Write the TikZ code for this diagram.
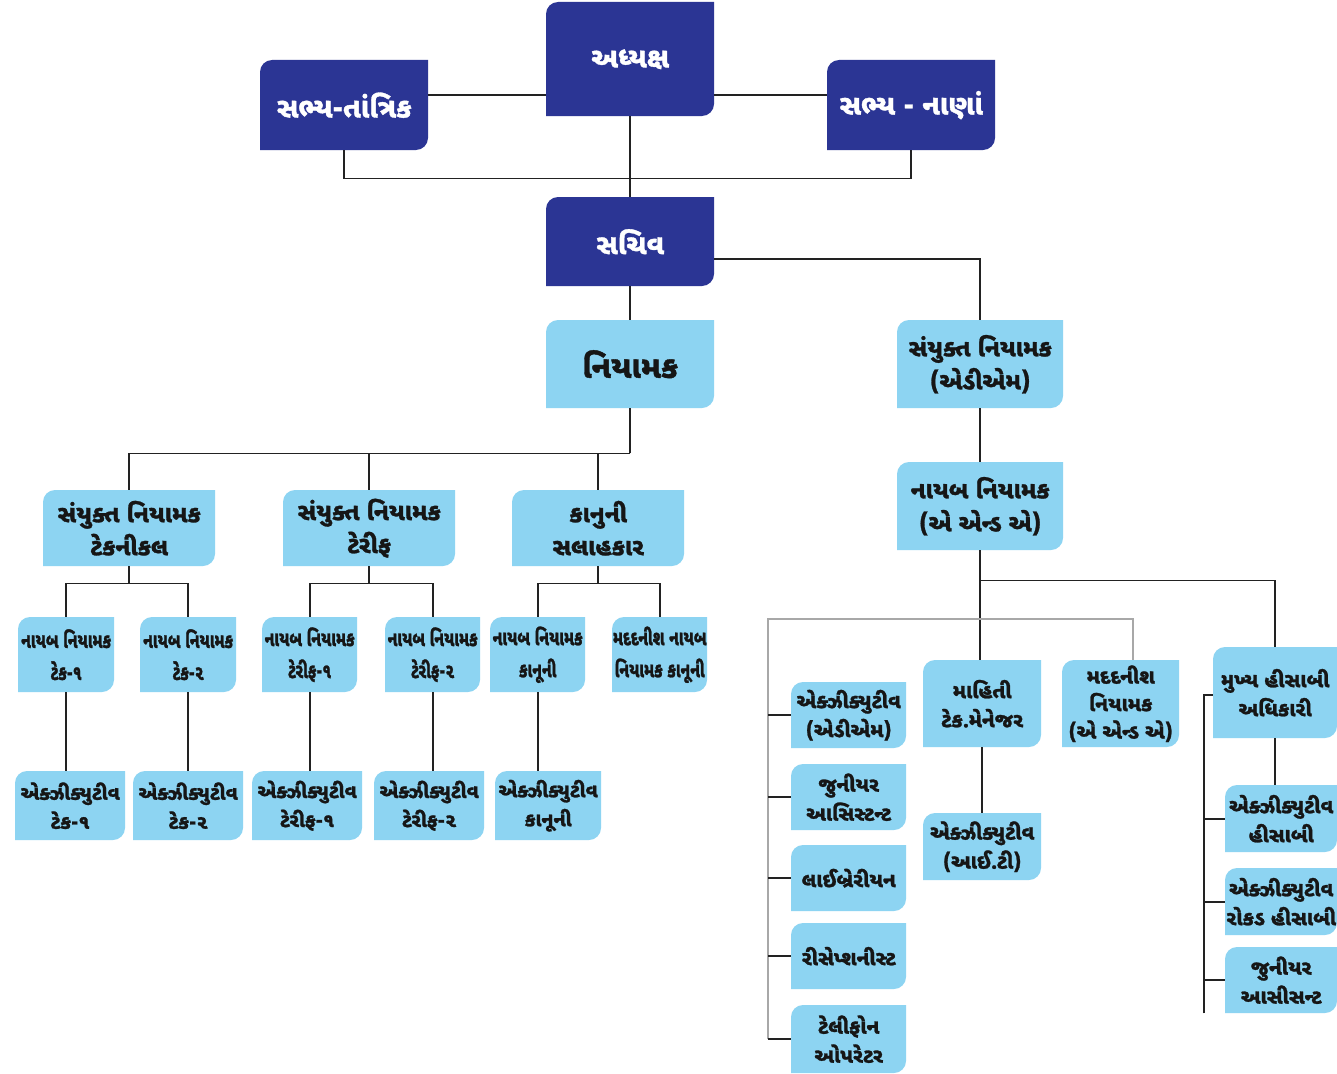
\documentclass[tikz,border=0pt]{standalone}
\usepackage{fontspec}
\newfontfamily\guj[Script=Gujarati, BoldFeatures={FakeBold=1.2}]{Noto Sans Gujarati UI}
\newfontfamily\gujc[Script=Gujarati, FakeStretch=0.74, BoldFeatures={FakeBold=1.2}]{Noto Sans Gujarati UI}
\definecolor{darkbox}{HTML}{2B3594}
\definecolor{lightbox}{HTML}{8DD4F2}
\definecolor{linec}{HTML}{222222}
\definecolor{grayl}{HTML}{A8A8A8}
\definecolor{txt}{HTML}{161616}
\newcommand\obox[8]{%
  \fill[#6] (#2,#3+12) .. controls (#2,#3+5.4) and (#2+5.4,#3) .. (#2+12,#3) -- (#4,#3) -- (#4,#5-12) .. controls (#4,#5-5.4) and (#4-5.4,#5) .. (#4-12,#5) -- (#2,#5) -- cycle;
  \node[#7, inner sep=0pt, minimum width=#4-#2, minimum height=#5-#3, anchor=north west, align=center] (#1) at (#2,#3) {#8};
}
\tikzset{
  dk/.style={text=white, font=\guj\bfseries\fontsize{28}{32}\selectfont},
  big/.style={text=txt, font=\guj\bfseries\fontsize{31}{34}\selectfont},
  lvtwo/.style={text=txt, font=\guj\bfseries\fontsize{24}{33}\selectfont},
  lvthree/.style={text=txt, font=\gujc\bfseries\fontsize{21}{32}\selectfont},
  lvfour/.style={text=txt, font=\guj\bfseries\fontsize{19.5}{29}\selectfont},
  sm/.style={text=txt, font=\guj\bfseries\fontsize{20.5}{29}\selectfont},
  smtight/.style={text=txt, font=\guj\bfseries\fontsize{20.5}{27.5}\selectfont},
  conn/.style={draw=linec, line width=1.6pt},
  gconn/.style={draw=grayl, line width=1.3pt}
}
\begin{document}
\begin{tikzpicture}[x=1pt, y=-1pt]
\useasboundingbox (0,0) rectangle (1337,1073);
\fill[white] (0,0) rectangle (1337,1073);
% dark boxes
\obox{adhy}{546}{2}{714}{116}{darkbox}{dk}{અધ્યક્ષ}
\obox{stech}{260}{60}{428}{150}{darkbox}{dk}{સભ્ય-તાંત્રિક}
\obox{sfin}{827}{60}{995}{150}{darkbox}{dk}{સભ્ય - નાણાં}
\obox{sachiv}{546}{197}{714}{286}{darkbox}{dk}{સચિવ}
% level 2
\obox{niyamak}{546}{320}{714}{408}{lightbox}{big}{નિયામક}
\obox{sadm}{897}{320}{1063}{408}{lightbox}{lvtwo}{સંયુક્ત નિયામક\\(એડીએમ)}
\obox{naa}{897}{462}{1063}{550}{lightbox}{lvtwo}{નાયબ નિયામક\\(એ એન્ડ એ)}
\obox{jtech}{43}{490}{215}{566}{lightbox}{lvtwo}{સંયુક્ત નિયામક\\ટેકનીકલ}
\obox{jtar}{283}{490}{455}{566}{lightbox}{lvtwo}{સંયુક્ત નિયામક\\ટેરીફ}
\obox{legal}{512}{490}{684}{566}{lightbox}{lvtwo}{કાનુની\\સલાહકાર}
% level 3
\obox{dtone}{18}{617}{114}{692}{lightbox}{lvthree}{નાયબ નિયામક\\ટેક-૧}
\obox{dttwo}{140}{617}{236}{692}{lightbox}{lvthree}{નાયબ નિયામક\\ટેક-૨}
\obox{drone}{262}{617}{357}{692}{lightbox}{lvthree}{નાયબ નિયામક\\ટેરીફ-૧}
\obox{drtwo}{385}{617}{480}{692}{lightbox}{lvthree}{નાયબ નિયામક\\ટેરીફ-૨}
\obox{dleg}{490}{617}{585}{692}{lightbox}{lvthree}{નાયબ નિયામક\\કાનૂની}
\obox{adleg}{612}{617}{707}{692}{lightbox}{lvthree}{મદદનીશ નાયબ\\નિયામક કાનૂની}
% level 4
\obox{eone}{15}{771}{125}{840}{lightbox}{lvfour}{એક્ઝીક્યુટીવ\\ટેક-૧}
\obox{etwo}{133}{771}{243}{840}{lightbox}{lvfour}{એક્ઝીક્યુટીવ\\ટેક-૨}
\obox{ethree}{252}{771}{362}{840}{lightbox}{lvfour}{એક્ઝીક્યુટીવ\\ટેરીફ-૧}
\obox{efour}{374}{771}{484}{840}{lightbox}{lvfour}{એક્ઝીક્યુટીવ\\ટેરીફ-૨}
\obox{efive}{495}{771}{601}{840}{lightbox}{lvfour}{એક્ઝીક્યુટીવ\\કાનૂની}
% right side
\obox{eadm}{791}{682}{906}{748}{lightbox}{sm}{એક્ઝીક્યુટીવ\\(એડીએમ)}
\obox{jr}{791}{764}{906}{830}{lightbox}{sm}{જુનીયર\\આસિસ્ટન્ટ}
\obox{lib}{791}{845}{906}{911}{lightbox}{sm}{લાઈબ્રેરીયન}
\obox{rec}{791}{923}{906}{989}{lightbox}{sm}{રીસેપ્શનીસ્ટ}
\obox{tel}{791}{1005}{906}{1073}{lightbox}{sm}{ટેલીફોન\\ઓપરેટર}
\obox{mahiti}{923}{660}{1041}{747}{lightbox}{sm}{માહિતી\\ટેક.મેનેજર}
\obox{eit}{923}{813}{1041}{880}{lightbox}{sm}{એક્ઝીક્યુટીવ\\(આઈ.ટી)}
\obox{madad}{1062}{660}{1179}{747}{lightbox}{smtight}{મદદનીશ\\નિયામક\\(એ એન્ડ એ)}
\obox{mukhya}{1213}{647}{1337}{738}{lightbox}{sm}{મુખ્ય હીસાબી\\અધિકારી}
\obox{eh}{1225}{785}{1337}{852}{lightbox}{sm}{એક્ઝીક્યુટીવ\\હીસાબી}
\obox{erh}{1225}{868}{1337}{935}{lightbox}{sm}{એક્ઝીક્યુટીવ\\રોકડ હીસાબી}
\obox{jra}{1225}{947}{1337}{1013}{lightbox}{sm}{જુનીયર\\આસીસન્ટ}
% helper coordinates
\coordinate (ynf) at (0,95);
\coordinate (ysc) at (0,259);
\coordinate (gl) at (768,619);
\coordinate (gr) at (1133,619);
\coordinate (ml) at (1204,695);
% top connectors
\draw[conn] (stech.east |- ynf) -- (adhy.west |- ynf);
\draw[conn] (adhy.east |- ynf) -- (sfin.west |- ynf);
\draw[conn] (adhy.south) -- (sachiv.north);
\draw[conn] (stech.south) -- ++(0,28) -| (sfin.south);
\draw[conn] (sachiv.east |- ysc) -| (sadm.north);
\draw[conn] (sachiv.south) -- (niyamak.north);
% left tree
\draw[conn] (niyamak.south) -- ++(0,45) coordinate (nj);
\draw[conn] (nj) -| (jtech.north);
\draw[conn] (nj) -| (jtar.north);
\draw[conn] (nj) -| (legal.north);
\draw[conn] (jtech.south) -- ++(0,17) coordinate (tj);
\draw[conn] (tj) -| (dtone.north);
\draw[conn] (tj) -| (dttwo.north);
\draw[conn] (jtar.south) -- ++(0,17) coordinate (rj);
\draw[conn] (rj) -| (drone.north);
\draw[conn] (rj) -| (drtwo.north);
\draw[conn] (legal.south) -- ++(0,17) coordinate (lj);
\draw[conn] (lj) -| (dleg.north);
\draw[conn] (lj) -| (adleg.north);
\draw[conn] (dtone.south) -- (dtone.south |- eone.north);
\draw[conn] (dttwo.south) -- (dttwo.south |- etwo.north);
\draw[conn] (drone.south) -- (drone.south |- ethree.north);
\draw[conn] (drtwo.south) -- (drtwo.south |- efour.north);
\draw[conn] (dleg.south) -- (dleg.south |- efive.north);
% right tree
\draw[conn] (sadm.south) -- (naa.north);
\draw[conn] (naa.south) -- (naa.south |- mahiti.north);
\draw[conn] (naa.south) -- ++(0,30) -| (mukhya.north);
\draw[conn] (mahiti.south) -- (mahiti.south |- eit.north);
\draw[gconn] (gl |- tel.west) -- (gl) -- (gr) -- (gr |- madad.north);
\draw[conn] (gl |- eadm.west) -- (eadm.west);
\draw[conn] (gl |- jr.west) -- (jr.west);
\draw[conn] (gl |- lib.west) -- (lib.west);
\draw[conn] (gl |- rec.west) -- (rec.west);
\draw[conn] (gl |- tel.west) -- (tel.west);
\draw[conn] (ml |- jra.south) -- (ml) -- (ml -| mukhya.west);
\draw[conn] (mukhya.south) -- (mukhya.south |- eh.north);
\draw[conn] (ml |- eh.west) -- (eh.west);
\draw[conn] (ml |- erh.west) -- (erh.west);
\draw[conn] (ml |- jra.west) -- (jra.west);
\end{tikzpicture}
\end{document}
